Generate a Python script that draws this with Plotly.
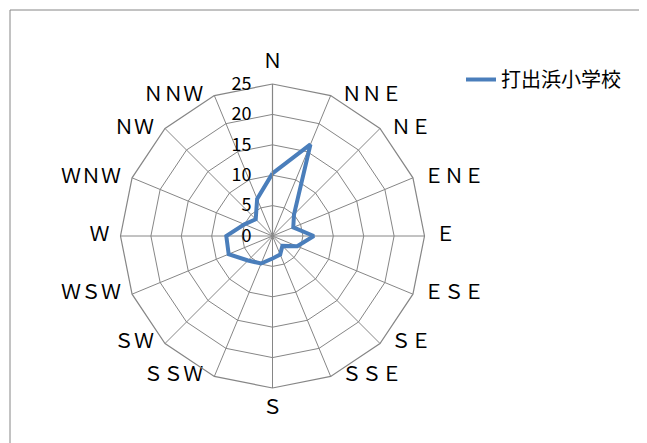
import plotly.graph_objects as go

directions = ["Ｎ", "ＮＮＥ", "ＮＥ", "ＥＮＥ", "Ｅ", "ＥＳＥ", "ＳＥ", "ＳＳＥ",
              "Ｓ", "ＳＳＷ", "ＳＷ", "ＷＳＷ", "Ｗ", "ＷＮＷ", "ＮＷ", "ＮＮＷ"]
values = [10.3, 16.3, 5.0, 3.7, 6.8, 4.4, 2.3, 3.3,
          3.7, 4.9, 5.7, 7.8, 7.6, 5.0, 3.9, 6.6]
series_name = "打出浜小学校"
radial_ticks = [0, 5, 10, 15, 20, 25]

# page body has an 8px default margin; figure is sized/positioned to compensate
OFF = 8
W, H = 647 - OFF, 443 - OFF
cx, cy, R = 272.5 - OFF, 236.0 - OFF, 152.0

n = len(directions)
half = n // 2


def label_pos(i):
    if i == 0:
        return "top center"
    if i == half:
        return "bottom center"
    return "middle right" if i < half else "middle left"


grid = "#868686"
font_family = "Noto Sans CJK JP, Liberation Sans, Arial"
r_max = radial_ticks[-1]

fig = go.Figure()
fig.add_trace(go.Scatterpolar(
    r=values + values[:1],
    theta=directions + directions[:1],
    mode="lines",
    name=series_name,
    line=dict(color="#4A7EBB", width=4),
))
# category labels placed at the outer vertices (Excel-like placement)
fig.add_trace(go.Scatterpolar(
    r=[r_max] * n,
    theta=directions,
    mode="markers+text",
    text=directions,
    textposition=[label_pos(i) for i in range(n)],
    textfont=dict(size=20, family=font_family, color="black"),
    marker=dict(size=16, color="rgba(0,0,0,0)"),
    cliponaxis=False,
    showlegend=False,
    hoverinfo="skip",
))

fig.update_layout(
    width=W, height=H,
    margin=dict(l=0, r=0, t=0, b=0),
    paper_bgcolor="white",
    font=dict(family=font_family, size=16, color="black"),
    polar=dict(
        domain=dict(x=[(cx - R) / W, (cx + R) / W],
                    y=[(H - cy - R) / H, (H - cy + R) / H]),
        gridshape="linear",
        bgcolor="white",
        angularaxis=dict(
            direction="clockwise", rotation=90,
            categoryorder="array", categoryarray=directions,
            showline=True, linecolor=grid, linewidth=1.2,
            gridcolor=grid, gridwidth=1.2,
            ticks="", showticklabels=False,
        ),
        radialaxis=dict(
            range=[0, r_max], tickvals=radial_ticks,
            angle=90, side="counterclockwise",
            showline=True, linecolor=grid, linewidth=1.2,
            gridcolor=grid, gridwidth=1.2,
            ticks="outside", ticklen=14, tickcolor="rgba(0,0,0,0)",
            tickangle=90,
            tickfont=dict(size=18, family=font_family),
        ),
    ),
    showlegend=True,
    legend=dict(x=(461 - OFF) / W, y=1 - (60 - OFF) / H, xanchor="left", yanchor="top",
                bgcolor="rgba(0,0,0,0)",
                font=dict(size=20, family=font_family)),
    shapes=[dict(type="rect", xref="paper", yref="paper",
                 x0=(10 - OFF) / W, x1=1.05, y0=-0.05, y1=1 - (10 - OFF) / H,
                 line=dict(color=grid, width=1), layer="below")],
)

fig.write_html("out.html")
